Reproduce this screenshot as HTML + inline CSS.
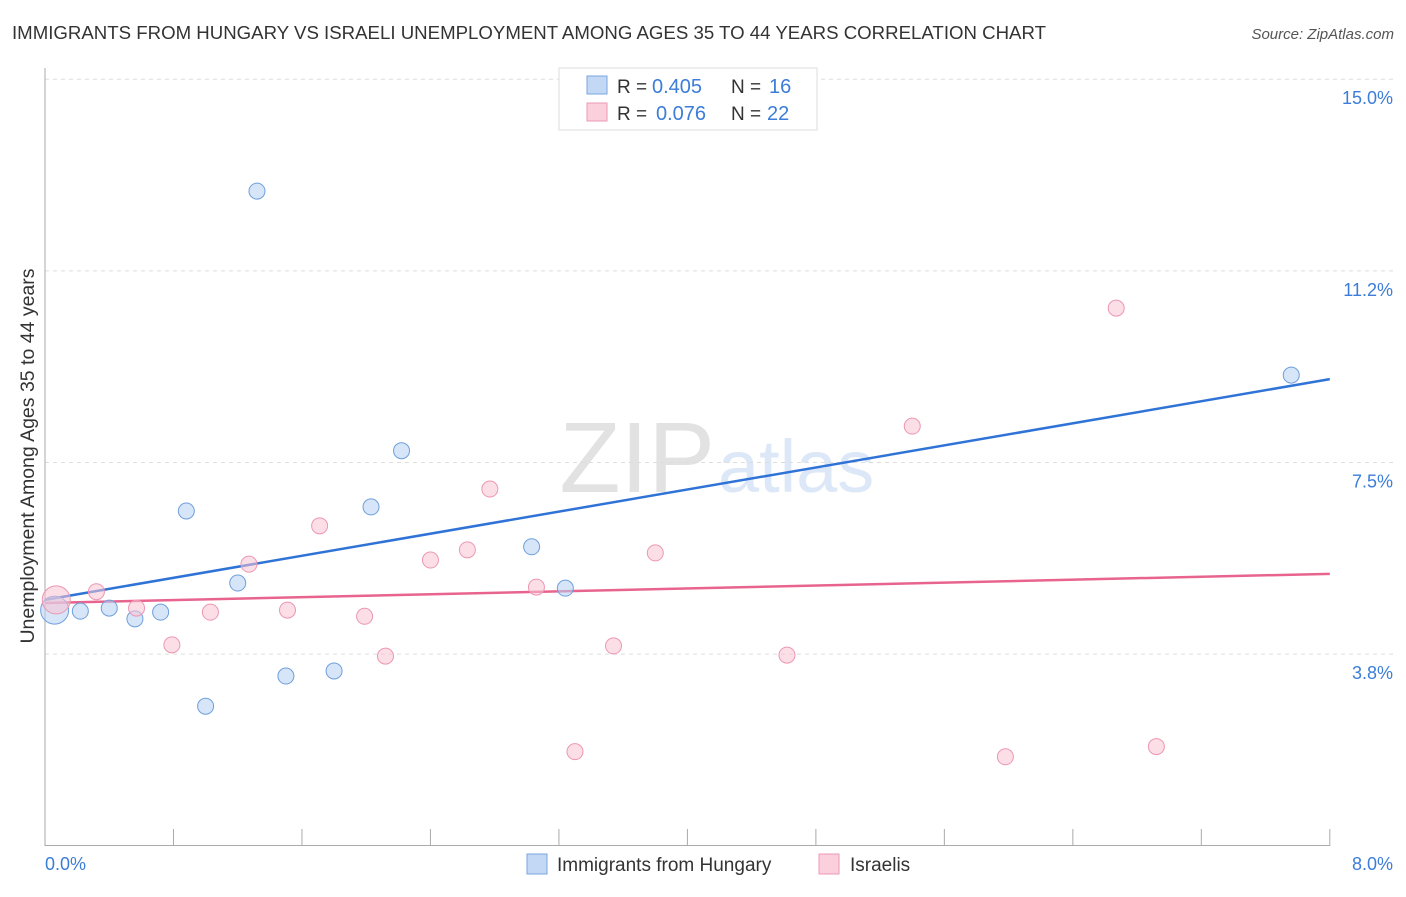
<!DOCTYPE html>
<html><head><meta charset="utf-8"><style>
body{margin:0;background:#fff;font-family:"Liberation Sans",sans-serif;}
svg text{font-family:"Liberation Sans",sans-serif;}
</style></head><body>
<svg id="c" width="1406" height="892">
<text x="12" y="39" font-size="18" fill="#333" textLength="1034" lengthAdjust="spacingAndGlyphs">IMMIGRANTS FROM HUNGARY VS ISRAELI UNEMPLOYMENT AMONG AGES 35 TO 44 YEARS CORRELATION CHART</text>
<text x="1394" y="39" font-size="15" fill="#555" font-style="italic" text-anchor="end">Source: ZipAtlas.com</text>
<text x="715" y="492" font-size="100" fill="#e2e2e2" text-anchor="end" font-family="Liberation Serif">ZIP</text>
<text x="718" y="492" font-size="74" fill="#dce8f7">atlas</text>
<g id="grid"></g><g id="axes"></g><g id="lines"></g><g id="pts"></g>
<text transform="translate(34,456) rotate(-90)" font-size="19.5" fill="#333" text-anchor="middle">Unemployment Among Ages 35 to 44 years</text>
<text x="45" y="870" font-size="18" fill="#3b7dd8">0.0%</text>
<text x="1393" y="870" font-size="18" fill="#3b7dd8" text-anchor="end">8.0%</text>
<g>
<rect x="559" y="68" width="258" height="62" fill="#fff" stroke="#ddd"/>
<rect x="587" y="76" width="20" height="18" fill="#c2d8f5" stroke="#7aa6e0"/>
<rect x="587" y="103" width="20" height="18" fill="#fbcfdc" stroke="#ee9ab4"/>
<text x="617" y="93" font-size="19" fill="#333">R =</text>
<text x="652" y="93" font-size="20" fill="#3b7dd8">0.405</text>
<text x="731" y="93" font-size="19" fill="#333">N =</text>
<text x="769" y="93" font-size="20" fill="#3b7dd8">16</text>
<text x="617" y="120" font-size="19" fill="#333">R =</text>
<text x="656" y="120" font-size="20" fill="#3b7dd8">0.076</text>
<text x="731" y="120" font-size="19" fill="#333">N =</text>
<text x="767" y="120" font-size="20" fill="#3b7dd8">22</text>
</g>
<g>
<rect x="527" y="854" width="20" height="20" fill="#c2d8f5" stroke="#7aa6e0"/>
<text x="557" y="871" font-size="19" fill="#333">Immigrants from Hungary</text>
<rect x="819" y="854" width="20" height="20" fill="#fbcfdc" stroke="#ee9ab4"/>
<text x="850" y="871" font-size="19" fill="#333">Israelis</text>
</g>
</svg>
<script>
const yTicks=[3.8,7.5,11.2,15.0];
const yTickPos=[3.75,7.5,11.25,15.0];
const hungX=[0.06,0.22,0.40,0.56,0.72,0.88,1.00,1.20,1.32,1.50,1.80,2.03,2.22,3.03,3.24,7.76];
const hungY=[4.61,4.59,4.65,4.44,4.57,6.55,2.73,5.14,12.81,3.32,3.42,6.63,7.73,5.85,5.04,9.21];
const isrX=[0.07,0.32,0.57,0.79,1.03,1.27,1.51,1.71,1.99,2.12,2.40,2.63,2.77,3.06,3.30,3.54,3.80,4.62,5.40,5.98,6.67,6.92];
const isrY=[4.81,4.97,4.65,3.93,4.57,5.51,4.61,6.26,4.49,3.71,5.59,5.79,6.98,5.06,1.84,3.91,5.73,3.73,8.21,1.74,10.52,1.94];
const hungLine=[4.81,9.13];
const isrLine=[4.75,5.32];
const X=v=>45+v*160.6, Y=v=>845.7-v*51.1;
const NS="http://www.w3.org/2000/svg";
function mk(p,t,a){const e=document.createElementNS(NS,t);for(const k in a)e.setAttribute(k,a[k]);document.getElementById(p).appendChild(e);return e;}
yTicks.forEach((t,i)=>{const y=Y(yTickPos[i]);
let g=mk('grid','line',{x1:45,x2:1393,y1:y,y2:y,stroke:'#ddd','stroke-dasharray':'4,4'});


let tx=mk('grid','text',{x:1393,y:y+25,'font-size':18,fill:'#3b7dd8','text-anchor':'end'});tx.textContent=t.toFixed(1)+'%';

});
let a=mk('axes','line',{x1:45,x2:45,y1:68,y2:846,stroke:'#aaa'});


a=mk('axes','line',{x1:45,x2:1330,y1:845.5,y2:845.5,stroke:'#aaa'});


for(let k=1;k<=10;k++){const x=X(k*0.8);let t=mk('axes','line',{x1:x,x2:x,y1:829,y2:846,stroke:'#aaa'});

}
function pts(xs,ys,fill,stroke,name){xs.forEach((x,i)=>{let r=(i===0)?14:8;
let c=mk('pts','circle',{cx:X(x),cy:Y(ys[i]),r:r,fill:fill,'fill-opacity':0.55,stroke:stroke,'stroke-width':1});

});}
pts(hungX,hungY,'#b5cff2','#6f9fdc','hungary-point');
pts(isrX,isrY,'#f9c3d3','#ec97b2','israeli-point');
let l=mk('lines','line',{x1:X(0),x2:X(8),y1:Y(hungLine[0]),y2:Y(hungLine[1]),stroke:'#2f73d6','stroke-width':2.5});


l=mk('lines','line',{x1:X(0),x2:X(8),y1:Y(isrLine[0]),y2:Y(isrLine[1]),stroke:'#e8648e','stroke-width':2.5});


</script>
</body></html>
